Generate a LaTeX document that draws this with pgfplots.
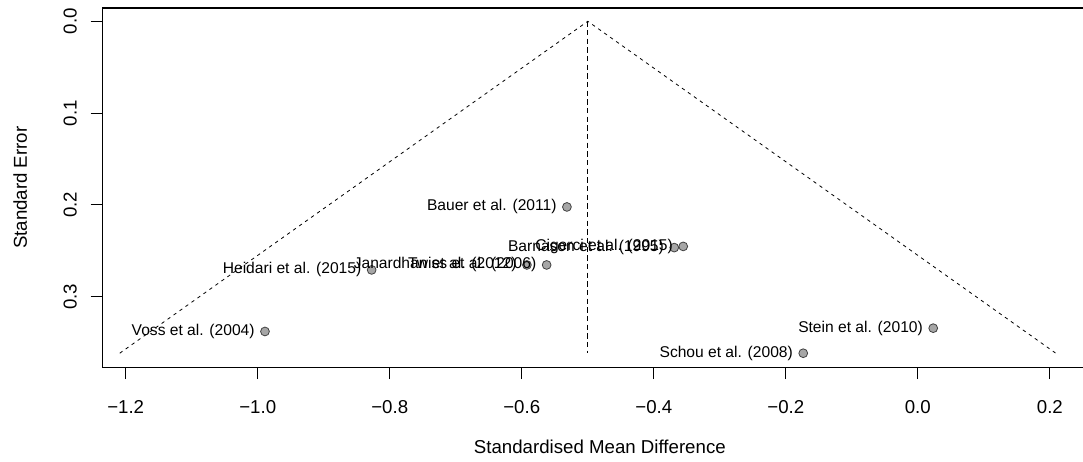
\documentclass[border=0pt]{standalone}
\usepackage{pgfplots}
\pgfplotsset{compat=1.18}
\usepackage{fontspec}
\setmainfont{Liberation Sans}
\begin{document}
\begin{tikzpicture}
\begin{axis}[
  scale only axis,
  width=746.4pt, height=269.7pt,
  xmin=-1.2354, xmax=0.272,
  ymin=-0.01449, ymax=0.3773,
  y dir=reverse,
  axis line style={line width=1pt},
  tick style={black, line width=0.75pt},
  tick align=outside,
  major tick length=8.7pt,
  xtick pos=bottom, ytick pos=left,
  xtick={-1.2,-1.0,-0.8,-0.6,-0.4,-0.2,0,0.2},
  xticklabels={−1.2,−1.0,−0.8,−0.6,−0.4,−0.2,0.0,0.2},
  ytick={0,0.1,0.2,0.3},
  yticklabels={0.0,0.1,0.2,0.3},
  tick label style={font=\fontsize{14}{16}\selectfont, inner sep=0pt},
  xticklabel style={anchor=north},
  yticklabel style={rotate=90, anchor=south},
  xticklabel shift=15.5pt,
  yticklabel shift=10.3pt,
  xlabel={Standardised Mean Difference},
  ylabel={Standard Error},
  label style={font=\fontsize{14}{16}\selectfont},
  xlabel style={at={(axis description cs:0.5,-0.2197)}, anchor=center},
  ylabel style={at={(axis description cs:-0.0824,0.5)}, anchor=center},
  clip=false,
]
% funnel
\addplot[black, line width=0.6pt, dash pattern=on 2.5pt off 3pt] coordinates {(-1.209,0.3617) (-0.5,0) (0.209,0.3617)};
\addplot[black, line width=0.9pt, dash pattern=on 4pt off 2.5pt] coordinates {(-0.5,0) (-0.5,0.3617)};
% studies
\addplot[only marks, mark=*, mark size=3.3pt,
  mark options={fill=gray!70!white, draw=black!75, line width=0.6pt},
  point meta=explicit symbolic,
  nodes near coords,
  every node near coord/.append style={anchor=east, xshift=-7.5pt, inner sep=0pt, font=\fontsize{11.7}{14}\selectfont, text=black},
] coordinates {
  (-0.989,0.338) [Voss et al. (2004)]
  (-0.8274,0.2709) [Heidari et al. (2015)]
  (-0.5922,0.2655) [Janardhan et al. (2012)]
  (-0.5623,0.2655) [Twiss et al. (2006)]
  (-0.5316,0.2023) [Bauer et al. (2011)]
  (-0.369,0.2466) [Barnason et al. (1995)]
  (-0.3554,0.2453) [Cigerci et al. (2015)]
  (0.0233,0.3344) [Stein et al. (2010)]
  (-0.1736,0.3617) [Schou et al. (2008)]
};
\coordinate (bl) at (axis cs:-1.3904,0.4801);
\coordinate (tr) at (axis cs:0.2502,-0.0232);
\end{axis}
\pgfresetboundingbox
\path[use as bounding box] (bl) rectangle (tr);
\end{tikzpicture}
\end{document}
